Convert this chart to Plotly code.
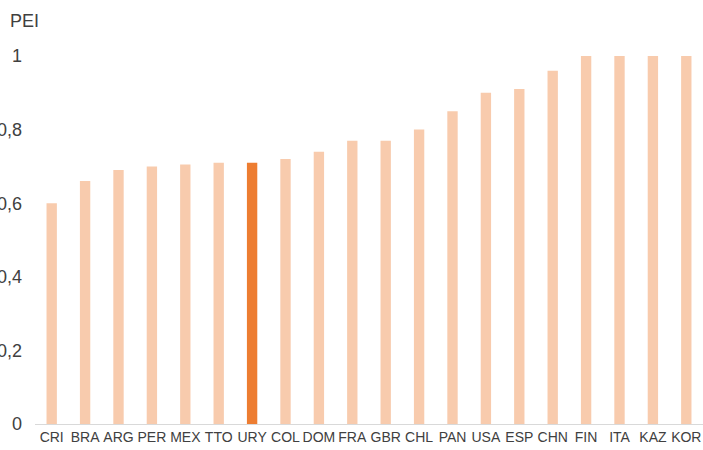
import plotly.graph_objects as go

# PEI by country, sorted ascending
countries = ["CRI", "BRA", "ARG", "PER", "MEX", "TTO", "URY", "COL", "DOM", "FRA",
             "GBR", "CHL", "PAN", "USA", "ESP", "CHN", "FIN", "ITA", "KAZ", "KOR"]
pei = [0.60, 0.66, 0.69, 0.70, 0.705, 0.71, 0.71, 0.72, 0.74, 0.77,
       0.77, 0.80, 0.85, 0.90, 0.91, 0.96, 1.0, 1.0, 1.0, 1.0]
highlight = "URY"

y_ticks = [0, 0.2, 0.4, 0.6, 0.8, 1.0]
y_tick_text = ["0", "0,2", "0,4", "0,6", "0,8", "1"]

base_color = "#F8CBAD"
accent_color = "#ED7D31"
text_color = "#404040"
font_family = "Liberation Sans, Arial, sans-serif"

colors = [accent_color if c == highlight else base_color for c in countries]

fig = go.Figure(
    go.Bar(
        x=countries,
        y=pei,
        marker=dict(color=colors, line=dict(width=0)),
        width=0.31,
        hoverinfo="x+y",
    )
)

fig.update_layout(
    width=703,
    height=450,
    margin=dict(l=35, r=0, t=56, b=26),
    paper_bgcolor="white",
    plot_bgcolor="white",
    showlegend=False,
    font=dict(family=font_family, color=text_color),
    xaxis=dict(
        type="category",
        range=[-0.5, len(countries) - 0.5],
        showgrid=False,
        showline=True,
        linecolor="#D9D9D9",
        linewidth=1,
        ticks="",
        tickfont=dict(size=14, color=text_color),
        automargin=False,
    ),
    yaxis=dict(
        range=[0, 1.0],
        tickvals=y_ticks,
        ticktext=y_tick_text,
        showgrid=False,
        zeroline=False,
        showline=False,
        ticks="",
        ticklabelstandoff=12,
        tickfont=dict(size=18, color=text_color),
        automargin=False,
    ),
    annotations=[
        dict(
            text="PEI",
            xref="paper", yref="paper",
            x=-27 / 668, y=1 + 35 / 368,
            xanchor="left", yanchor="middle",
            showarrow=False,
            font=dict(size=18, color=text_color, family=font_family),
        )
    ],
)

fig.write_html("out.html")
